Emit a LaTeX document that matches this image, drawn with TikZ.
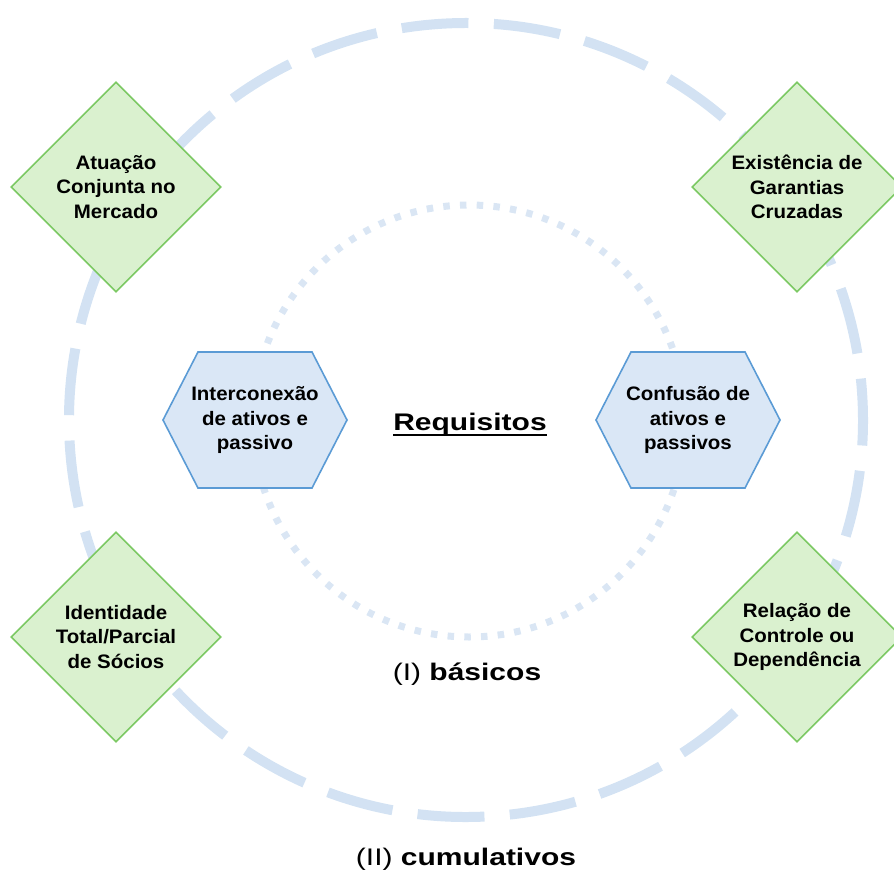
\documentclass[tikz,border=0pt]{standalone}
\usepackage{fontspec}
\setmainfont{Liberation Sans}[FakeStretch=1.05]
\newfontfamily\widefont{Liberation Sans}[FakeStretch=1.25]
\usetikzlibrary{shapes.geometric}
\definecolor{dfill}{HTML}{DAF1CF}
\definecolor{dline}{HTML}{7CC963}
\definecolor{hfill}{HTML}{DAE7F6}
\definecolor{hline}{HTML}{5B9BD5}
\definecolor{ringout}{HTML}{D3E2F3}
\definecolor{ringin}{HTML}{DAE6F4}
\newcommand\myul[1]{\setbox0\hbox{#1}\rlap{\rule[-5.5pt]{\wd0}{2pt}}\box0}
\tikzset{
  outerring/.style={draw=ringout, line width=10pt, dash pattern=on 67pt off 25.39pt},
  innerring/.style={draw=ringin, line width=7pt, dash pattern=on 6.5pt off 10.23pt},
  dia/.style={diamond, draw=dline, fill=dfill, line width=1.6pt, minimum width=210pt,
    minimum height=210pt, inner sep=0pt, align=center,
    font=\bfseries\fontsize{19.5}{24.5}\selectfont},
  hexs/.style={draw=hline, fill=hfill, line width=1.6pt, line join=miter},
  hext/.style={align=center, inner sep=0pt, font=\bfseries\fontsize{19.5}{24.5}\selectfont},
  bigtext/.style={anchor=base, inner sep=0pt, font=\widefont\fontsize{24}{28}\selectfont}
}
\begin{document}
\begin{tikzpicture}[x=1pt, y=-1pt]
\useasboundingbox (0,0) rectangle (894,870);
% rings
\coordinate (oc) at (466,420);
\coordinate (ic) at (469,421);
\draw[outerring] (oc) ++(177:397) arc[start angle=177, end angle=-183, radius=397];
\draw[innerring] (ic) ++(180:216) arc[start angle=180, end angle=-180, radius=216];
% diamonds
\node[dia] (d1) at (116,187) {Atuação\\Conjunta no\\Mercado};
\node[dia] (d2) at (797,187) {Existência de\\Garantias\\Cruzadas};
\node[dia] (d3) at (116,637) {Identidade\\Total/Parcial\\de Sócios};
\node[dia] (d4) at (797,637) {Relação de\\Controle ou\\Dependência};
% hexagons
\coordinate (hl) at (255,420);
\coordinate (hr) at (688,420);
\filldraw[hexs] (hl) ++(-92,0) -- ++(35,-68) -- ++(114,0) -- ++(35,68) -- ++(-35,68) -- ++(-114,0) -- cycle;
\filldraw[hexs] (hr) ++(-92,0) -- ++(35,-68) -- ++(114,0) -- ++(35,68) -- ++(-35,68) -- ++(-114,0) -- cycle;
\node[hext] (hexL) at (hl) {Interconexão\\de ativos e\\passivo};
\node[hext] (hexR) at (hr) {Confusão de\\ativos e\\passivos};
% labels
\node[bigtext] (req) at (470,430) {\myul{\bfseries Requisitos}};
\node[bigtext] (bas) at (467,680) {(I) \textbf{básicos}};
\node[bigtext] (cum) at (466,865) {(II) \textbf{cumulativos}};
\end{tikzpicture}
\end{document}
